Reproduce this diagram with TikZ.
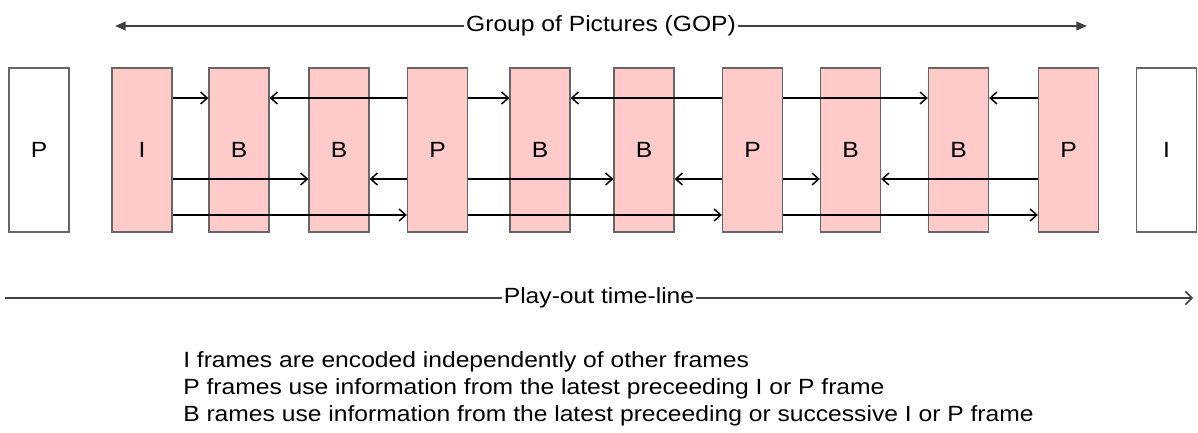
\documentclass[tikz,border=0pt]{standalone}
\usepackage{fontspec}
\setmainfont{Liberation Sans}
\usetikzlibrary{arrows.meta,calc}
\definecolor{framepink}{HTML}{FFCACA}
\definecolor{frameedge}{HTML}{666666}
\newcommand\wtxt[1]{\scalebox{1.12}[1]{#1}}
\newcommand\dfont{\fontsize{16.5}{20}\selectfont}
\begin{document}
\begin{tikzpicture}[x=0.75pt,y=-0.75pt,
  frame/.style={draw=frameedge, line width=1pt, fill=framepink, minimum width=45pt, minimum height=123pt, inner sep=0pt, font=\dfont},
  outframe/.style={frame, fill=white},
  conn/.style={draw=black, line width=1.1pt, -{Straight Barb[length=5pt,width=9pt,line width=1.1pt]}},
  tline/.style={draw=black!75, line width=1.4pt},
  lbl/.style={font=\dfont, inner sep=1.5pt, fill=white}]
\useasboundingbox (0,0) rectangle (1198,432);
% frames
\node[outframe] (p0) at (39,150) {\wtxt{P}};
\node[frame] (i)  at (142,150) {\wtxt{I}};
\node[frame] (b1) at (239,150) {\wtxt{B}};
\node[frame] (b2) at (339,150) {\wtxt{B}};
\node[frame] (p1) at (437.5,150) {\wtxt{P}};
\node[frame] (b3) at (540,150) {\wtxt{B}};
\node[frame] (b4) at (644,150) {\wtxt{B}};
\node[frame] (p2) at (752.5,150) {\wtxt{P}};
\node[frame] (b5) at (850.5,150) {\wtxt{B}};
\node[frame] (b6) at (958.5,150) {\wtxt{B}};
\node[frame] (p3) at (1068.5,150) {\wtxt{P}};
\node[outframe] (i2) at (1166.5,150) {\wtxt{I}};
% rows
\coordinate (r1) at (0,98);
\coordinate (r2) at (0,179);
\coordinate (r3) at (0,215);
% row 1
\draw[conn] (i.east|-r1) -- (b1.west|-r1);
\draw[conn] (p1.west|-r1) -- (b1.east|-r1);
\draw[conn] (p1.east|-r1) -- (b3.west|-r1);
\draw[conn] (p2.west|-r1) -- (b3.east|-r1);
\draw[conn] (p2.east|-r1) -- (b6.west|-r1);
\draw[conn] (p3.west|-r1) -- (b6.east|-r1);
% row 2
\draw[conn] (i.east|-r2) -- (b2.west|-r2);
\draw[conn] (p1.west|-r2) -- (b2.east|-r2);
\draw[conn] (p1.east|-r2) -- (b4.west|-r2);
\draw[conn] (p2.west|-r2) -- (b4.east|-r2);
\draw[conn] (p2.east|-r2) -- (b5.west|-r2);
\draw[conn] (p3.west|-r2) -- (b5.east|-r2);
% row 3
\draw[conn] (i.east|-r3) -- (p1.west|-r3);
\draw[conn] (p1.east|-r3) -- (p2.west|-r3);
\draw[conn] (p2.east|-r3) -- (p3.west|-r3);
% GOP
\coordinate (gl) at (115,26);
\coordinate (gr) at (1087,26);
\node[lbl] (gop) at (601,26) {\wtxt{Group of Pictures (GOP)}};
\draw[tline, -{Triangle[length=8pt,width=6.5pt]}] (gop.west) -- (gl);
\draw[tline, -{Triangle[length=8pt,width=6.5pt]}] (gop.east) -- (gr);
% timeline
\coordinate (tl) at (5,298);
\coordinate (tr) at (1193,298);
\node[lbl] (play) at (599,298) {\wtxt{Play-out time-line}};
\draw[tline] (tl) -- (play.west);
\draw[tline, -{Straight Barb[length=5pt,width=10pt,line width=1.2pt]}] (play.east) -- (tr);
% notes
\node[font=\dfont, anchor=base west, inner sep=0pt] (t1) at (183,367.5) {\wtxt{I frames are encoded independently of other frames}};
\node[font=\dfont, anchor=base west, inner sep=0pt] (t2) at (183,394) {\wtxt{P frames use information from the latest preceeding I or P frame}};
\node[font=\dfont, anchor=base west, inner sep=0pt] (t3) at (183,421) {\wtxt{B rames use information from the latest preceeding or successive I or P frame}};
\end{tikzpicture}
\end{document}
